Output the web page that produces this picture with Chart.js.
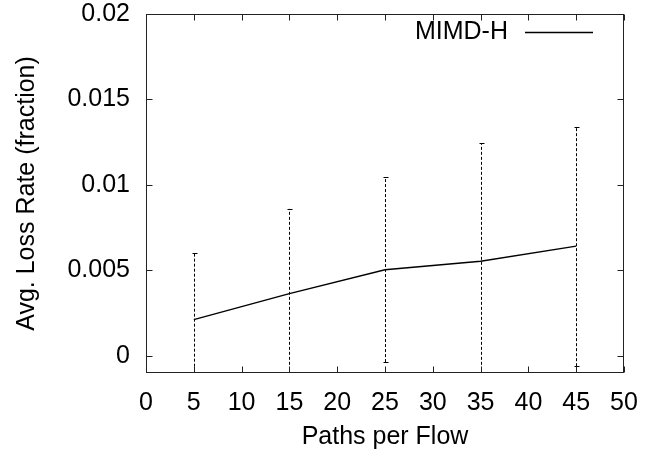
<!DOCTYPE html>
<html>
<head>
<meta charset="utf-8">
<script src="https://cdn.jsdelivr.net/npm/chart.js@4"></script>
<style>
  html, body { margin: 0; padding: 0; background: #fff; }
  #wrap { width: 651px; height: 452px; }
</style>
</head>
<body>
<div id="wrap"><canvas id="chart" width="651" height="452"></canvas></div>
<script>
// data
const seriesName = 'MIMD-H';
const paths = [5, 15, 25, 35, 45];
const lossRate = [0.00212, 0.00364, 0.00504, 0.00554, 0.00642];
const lossLow = [-0.0018, -0.0014, -0.00036, -0.0014, -0.0006];
const lossHigh = [0.00603, 0.0086, 0.01044, 0.01243, 0.0134];
const xTicks = [0, 5, 10, 15, 20, 25, 30, 35, 40, 45, 50];
const yTicks = [0, 0.005, 0.01, 0.015, 0.02];

const FONT = '"Liberation Sans", Arial, Helvetica, sans-serif';
const FSIZE = 25;

// frame, inward ticks (all four sides), error bars, key
const gnuplotLook = {
  id: 'gnuplotLook',
  afterDatasetsDraw(chart) {
    const ctx = chart.ctx;
    const a = chart.chartArea;
    const xs = chart.scales.x, ys = chart.scales.y;

    // error bars, dashed, clipped to the plot box
    ctx.save();
    ctx.beginPath();
    ctx.rect(a.left, a.top, a.right - a.left, a.bottom - a.top);
    ctx.clip();
    ctx.strokeStyle = '#000';
    ctx.lineWidth = 1;
    ctx.setLineDash([3, 2]);
    paths.forEach((p, i) => {
      const px = Math.round(xs.getPixelForValue(p)) + 0.5;
      ctx.beginPath();
      ctx.moveTo(px, ys.getPixelForValue(lossLow[i]));
      ctx.lineTo(px, ys.getPixelForValue(lossHigh[i]));
      ctx.stroke();
    });
    ctx.setLineDash([]);
    paths.forEach((p, i) => {
      const px = Math.round(xs.getPixelForValue(p)) + 0.5;
      [lossLow[i], lossHigh[i]].forEach(v => {
        const py = Math.round(ys.getPixelForValue(v)) + 0.5;
        ctx.beginPath();
        ctx.moveTo(px - 2, py);
        ctx.lineTo(px + 3, py);
        ctx.stroke();
      });
    });
    ctx.restore();

    // frame and ticks
    ctx.save();
    ctx.strokeStyle = '#222';
    ctx.lineWidth = 1;
    const L = Math.round(a.left) + 0.5, R = Math.round(a.right) - 0.5;
    const T = Math.round(a.top) + 0.5, B = Math.round(a.bottom) - 0.5;
    ctx.strokeRect(L, T, R - L, B - T);
    const tl = 6;
    ctx.beginPath();
    xTicks.forEach(v => {
      const px = Math.round(xs.getPixelForValue(v)) + 0.5;
      ctx.moveTo(px, B); ctx.lineTo(px, B - tl);
      ctx.moveTo(px, T); ctx.lineTo(px, T + tl);
    });
    yTicks.forEach(v => {
      const py = Math.round(ys.getPixelForValue(v)) + 0.5;
      ctx.moveTo(L, py); ctx.lineTo(L + tl, py);
      ctx.moveTo(R, py); ctx.lineTo(R - tl, py);
    });
    ctx.stroke();

    // key, top right
    ctx.fillStyle = '#000';
    ctx.font = FSIZE + 'px ' + FONT;
    ctx.textAlign = 'right';
    ctx.textBaseline = 'middle';
    ctx.fillText(seriesName, 508, 32);
    ctx.strokeStyle = '#000';
    ctx.lineWidth = 1.3;
    ctx.beginPath();
    ctx.moveTo(525, 32.5);
    ctx.lineTo(593, 32.5);
    ctx.stroke();
    ctx.restore();
  }
};

const ctx = document.getElementById('chart').getContext('2d');
new Chart(ctx, {
  type: 'line',
  data: {
    datasets: [{
      label: seriesName,
      data: paths.map((p, i) => ({ x: p, y: lossRate[i] })),
      borderColor: '#000',
      borderWidth: 1.4,
      pointRadius: 0,
      tension: 0,
      fill: false
    }]
  },
  options: {
    responsive: false,
    animation: false,
    layout: { padding: { top: 14, right: 27, left: 0, bottom: 0 } },
    plugins: { legend: { display: false }, tooltip: { enabled: false } },
    scales: {
      x: {
        type: 'linear',
        min: 0,
        max: 50,
        grid: { display: false, drawTicks: false },
        border: { display: false },
        afterBuildTicks: s => { s.ticks = xTicks.map(v => ({ value: v })); },
        afterFit: s => { s.height = 79; s.paddingLeft = 0; s.paddingRight = 0; },
        ticks: {
          color: '#000',
          font: { family: FONT, size: FSIZE },
          padding: 15,
          maxRotation: 0,
          autoSkip: false
        },
        title: {
          display: true,
          text: 'Paths per Flow',
          color: '#000',
          font: { family: FONT, size: FSIZE },
          padding: { top: 0, bottom: 0 }
        }
      },
      y: {
        type: 'linear',
        min: -0.001,
        max: 0.02,
        grid: { display: false, drawTicks: false },
        border: { display: false },
        afterBuildTicks: s => { s.ticks = yTicks.map(v => ({ value: v })); },
        afterFit: s => { s.width = 146; s.paddingTop = 0; s.paddingBottom = 0; },
        ticks: {
          color: '#000',
          font: { family: FONT, size: FSIZE },
          padding: 16,
          autoSkip: false,
          callback: v => String(v)
        },
        title: {
          display: true,
          text: 'Avg. Loss Rate (fraction)',
          color: '#000',
          font: { family: FONT, size: FSIZE },
          padding: { top: 12, bottom: 0 }
        }
      }
    }
  },
  plugins: [gnuplotLook]
});
</script>
</body>
</html>
